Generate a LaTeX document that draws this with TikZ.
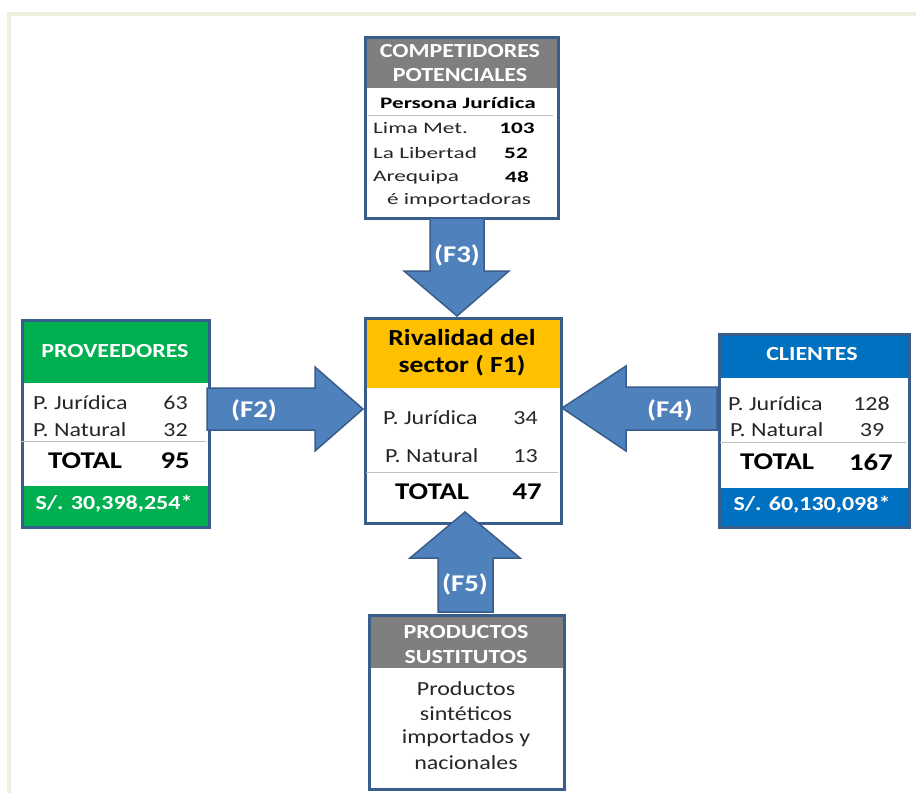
\documentclass[tikz,border=0pt]{standalone}
\usepackage{fontspec}
\setmainfont{Carlito}
\newfontfamily\fa[FakeStretch=1.2]{Carlito}
\newfontfamily\fb[FakeStretch=1.45]{Carlito}
\definecolor{bdr}{HTML}{3A5E8C}
\definecolor{arrfill}{HTML}{4F81BD}
\definecolor{arrline}{HTML}{385D8A}
\definecolor{hgray}{HTML}{7F7F7F}
\definecolor{hgreen}{HTML}{00B050}
\definecolor{hyellow}{HTML}{FFC000}
\definecolor{hblue}{HTML}{0070C0}
\definecolor{frame}{HTML}{EBF1DE}
\definecolor{sep}{HTML}{BFBFBF}
\definecolor{txt}{HTML}{262626}
\tikzset{
  boxline/.style={draw=bdr, line width=2.5pt, inner sep=0pt, anchor=north west},
  hdr/.style={font=\fa\bfseries\fontsize{20}{24}\selectfont, text=white, inner sep=0pt},
  body/.style={font=\fa\fontsize{20}{24}\selectfont, text=txt, inner sep=0pt},
  tot/.style={font=\fa\bfseries\fontsize{24}{28}\selectfont, text=black, inner sep=0pt},
  rivf/.style={font=\fa\bfseries\fontsize{23}{27}\selectfont, text=black, inner sep=0pt},
  cbody/.style={font=\fb\fontsize{16}{19}\selectfont, text=txt, inner sep=0pt},
  cbold/.style={font=\fb\bfseries\fontsize{16}{19}\selectfont, text=black, inner sep=0pt},
  foot/.style={font=\fa\bfseries\fontsize{20}{24}\selectfont, text=white, inner sep=0pt},
  lbl/.style={font=\fa\bfseries\fontsize{24}{28}\selectfont, text=white, inner sep=0pt},
  sepline/.style={draw=sep, line width=1pt},
  blockarrow/.style={fill=arrfill, draw=arrline, line width=1.5pt, line join=miter}
}
\begin{document}
\begin{tikzpicture}[x=1pt,y=-1pt]
\useasboundingbox (0,0) rectangle (916,793);
% outer frame
\draw[frame, line width=4pt] (9,793) -- (9,14) -- (916,14);

% ---------- header / footer fills ----------
\fill[hgray]   (364,36)  rectangle (557,88);
\fill[hgreen]  (21,319)  rectangle (208,383);
\fill[hgreen]  (21,486)  rectangle (208,526);
\fill[hyellow] (364,317) rectangle (560,388);
\fill[hblue]   (718,333) rectangle (908,378);
\fill[hblue]   (718,488) rectangle (908,526);
\fill[hgray]   (368,614) rectangle (563,668);

% ---------- boxes ----------
\node[boxline, minimum width=193pt, minimum height=181pt] (comp) at (364,36) {};
\node[boxline, minimum width=187pt, minimum height=207pt] (prov) at (21,319) {};
\node[boxline, minimum width=196pt, minimum height=205pt] (riv)  at (364,317) {};
\node[boxline, minimum width=190pt, minimum height=193pt] (cli)  at (718,333) {};
\node[boxline, minimum width=195pt, minimum height=174pt] (prod) at (368,614) {};

% ---------- competidores ----------
\node[hdr] (c1) at (460,51) {COMPETIDORES};
\node[hdr] (c2) at (460,75) {POTENCIALES};
\node[cbold] (c3) at (458,103) {Persona Jurídica};
\draw[sepline] (368,115) -- (553,115);
\node[cbody, anchor=west] (c4) at (373,128) {Lima Met.};
\node[cbold] (c4n) at (517,128) {103};
\node[cbody, anchor=west] (c5) at (373,153) {La Libertad};
\node[cbold] (c5n) at (516,153) {52};
\node[cbody, anchor=west] (c6) at (373,177) {Arequipa};
\node[cbold] (c6n) at (517,177) {48};
\node[cbody] (c7) at (459,200) {é importadoras};

% ---------- proveedores ----------
\node[hdr] (p1) at (115,351) {PROVEEDORES};
\node[body, anchor=west] (p2) at (33,403) {P. Jurídica};
\node[body, anchor=east] (p2n) at (188,403) {63};
\node[body, anchor=west] (p3) at (33,430) {P. Natural};
\node[body, anchor=east] (p3n) at (188,430) {32};
\draw[sepline] (21,441) -- (206,441);
\node[tot, anchor=west] (p4) at (48,461) {TOTAL};
\node[tot, anchor=east] (p4n) at (190,461) {95};
\node[foot] (p5) at (114,504) {S/. 30,398,254*};

% ---------- rivalidad ----------
\node[rivf] (r1) at (462,338) {Rivalidad del};
\node[rivf] (r2) at (462,366) {sector ( F1)};
\node[body, anchor=west] (r3) at (383,418) {P. Jurídica};
\node[body, anchor=east] (r3n) at (538,418) {34};
\node[body, anchor=west] (r4) at (385,456) {P. Natural};
\node[body, anchor=east] (r4n) at (538,456) {13};
\draw[sepline] (366,472) -- (558,472);
\node[tot, anchor=west] (r5) at (395,492) {TOTAL};
\node[tot, anchor=east] (r5n) at (542,492) {47};

% ---------- clientes ----------
\node[hdr] (k1) at (812,354) {CLIENTES};
\node[body, anchor=west] (k2) at (728,404) {P. Jurídica};
\node[body, anchor=east] (k2n) at (890,404) {128};
\node[body, anchor=west] (k3) at (730,430) {P. Natural};
\node[body] (k3n) at (872,430) {39};
\draw[sepline] (720,442) -- (906,442);
\node[tot, anchor=west] (k4) at (740,462) {TOTAL};
\node[tot, anchor=east] (k4n) at (893,462) {167};
\node[foot] (k5) at (812,505) {S/. 60,130,098*};

% ---------- productos ----------
\node[hdr] (s1) at (466,632) {PRODUCTOS};
\node[hdr] (s2) at (466,657) {SUSTITUTOS};
\node[body] (s3) at (466,689) {Productos};
\node[body] (s4) at (466,714) {sintéticos};
\node[body] (s5) at (466,738) {importados y};
\node[body] (s6) at (466,763) {nacionales};

% ---------- block arrows ----------
% F3: comp -> riv
\draw[blockarrow] (430,218) -- (484,218) -- (484,271) -- (509,271) -- (457,316) -- (404,271) -- (430,271) -- cycle;
\node[lbl] (f3) at (457,255) {(F3)};
% F2: prov -> riv
\draw[blockarrow] (207,388) -- (315,388) -- (315,367) -- (363,409) -- (315,451) -- (315,430) -- (207,430) -- cycle;
\node[lbl] (f2) at (254,410) {(F2)};
% F4: cli -> riv
\draw[blockarrow] (717,387) -- (626,387) -- (626,366) -- (562,408) -- (626,451) -- (626,430) -- (717,430) -- cycle;
\node[lbl] (f4) at (670,410) {(F4)};
% F5: prod -> riv
\draw[blockarrow] (438,612) -- (438,558) -- (410,558) -- (465,512) -- (520,558) -- (493,558) -- (493,612) -- cycle;
\node[lbl] (f5) at (465,584) {(F5)};
\end{tikzpicture}
\end{document}
